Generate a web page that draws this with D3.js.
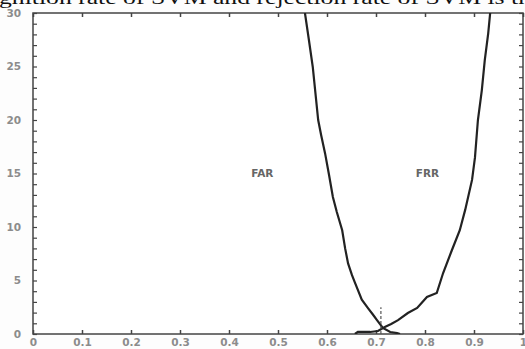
<!DOCTYPE html>
<html>
<head>
<meta charset="utf-8">
<script src="https://cdn.jsdelivr.net/npm/d3@7"></script>
<style>
  html, body { margin: 0; padding: 0; background: #fdfdfd; }
  svg { display: block; }
</style>
</head>
<body>
<div id="chart"></div>
<script>
// threshold values (x) and error rates in % (y)
const farX = [0.555, 0.563, 0.571, 0.582, 0.588, 0.596, 0.604, 0.612, 0.620, 0.631, 0.637, 0.643, 0.651, 0.657, 0.671, 0.684, 0.694, 0.702, 0.714, 0.729, 0.743, 0.749];
const farY = [30.0, 27.5, 24.95, 20.0, 18.6, 16.9, 14.9, 12.8, 11.4, 9.7, 8.0, 6.6, 5.5, 4.8, 3.2, 2.4, 1.8, 1.3, 0.56, 0.19, 0.09, 0];

const frrX = [0.657, 0.663, 0.688, 0.704, 0.718, 0.731, 0.745, 0.765, 0.784, 0.804, 0.824, 0.837, 0.855, 0.871, 0.882, 0.896, 0.902, 0.908, 0.916, 0.922, 0.929, 0.933];
const frrY = [0, 0.19, 0.19, 0.28, 0.65, 0.93, 1.3, 1.96, 2.43, 3.46, 3.83, 5.7, 7.85, 9.7, 11.6, 14.4, 16.5, 20.0, 22.8, 25.6, 28.1, 30.0];

const xTicks = [0, 0.1, 0.2, 0.3, 0.4, 0.5, 0.6, 0.7, 0.8, 0.9, 1];
const yTicks = [0, 5, 10, 15, 20, 25, 30];
const yMinor = d3.range(0, 31, 1);

const eerX = 0.71;
const eerTop = 2.5;

const labels = [
  { text: 'FAR', x: 0.468, y: 15 },
  { text: 'FRR', x: 0.805, y: 15 }
];

const headText = 'gnition rate of SVM and rejection rate of SVM is th';

const width = 525;
const height = 349;
const margin = { top: 13, right: 2, bottom: 15, left: 33 };

const svg = d3.select('#chart').append('svg')
  .attr('width', width)
  .attr('height', height);

// cut-off line of text from the page above
svg.append('text')
  .attr('x', -1)
  .attr('y', 4)
  .attr('textLength', 532)
  .attr('lengthAdjust', 'spacingAndGlyphs')
  .style('font-family', '"Liberation Serif", "DejaVu Serif", serif')
  .style('font-size', '19px')
  .style('fill', '#111')
  .text(headText);

const x = d3.scaleLinear().domain([0, 1]).range([margin.left, width - margin.right]);
const y = d3.scaleLinear().domain([0, 30]).range([height - margin.bottom, margin.top]);

const g = svg.append('g');

g.append('rect')
  .attr('x', x(0)).attr('y', y(30))
  .attr('width', x(1) - x(0)).attr('height', y(0) - y(30))
  .style('fill', '#fff');

svg.append('clipPath').attr('id', 'plotclip')
  .append('rect')
  .attr('x', x(0)).attr('y', y(30))
  .attr('width', x(1) - x(0)).attr('height', y(0) - y(30));

// Axes: ticks pointing inward on all four sides
const tickLen = 4;
const axisColor = '#444';
const labelColor = '#8c8c8c';
const labelFont = '"DejaVu Sans", Verdana, sans-serif';

g.append('g')
  .attr('transform', 'translate(0,' + y(0) + ')')
  .call(d3.axisBottom(x).tickValues(xTicks).tickSizeInner(-tickLen).tickSizeOuter(0)
    .tickFormat(d => d3.format('')(d)))
  .call(a => a.select('.domain').remove())
  .call(a => a.selectAll('line').style('stroke', axisColor).style('stroke-width', 1.5))
  .call(a => a.selectAll('text').attr('dy', '0.9em')
    .style('fill', labelColor).style('font-family', labelFont)
    .style('font-size', '10.5px').style('font-weight', 'bold'));

g.append('g')
  .attr('transform', 'translate(0,' + y(30) + ')')
  .call(d3.axisTop(x).tickValues(xTicks).tickSizeInner(-tickLen).tickSizeOuter(0).tickFormat(''))
  .call(a => a.select('.domain').remove())
  .call(a => a.selectAll('line').style('stroke', axisColor).style('stroke-width', 1.5));

g.append('g')
  .attr('transform', 'translate(' + x(0) + ',0)')
  .call(d3.axisLeft(y).tickValues(yMinor).tickSizeInner(-tickLen).tickSizeOuter(0).tickFormat(''))
  .call(a => a.select('.domain').remove())
  .call(a => a.selectAll('line').style('stroke', axisColor).style('stroke-width', 1.2));

g.append('g')
  .attr('transform', 'translate(' + x(1) + ',0)')
  .call(d3.axisRight(y).tickValues(yMinor).tickSizeInner(-tickLen).tickSizeOuter(0).tickFormat(''))
  .call(a => a.select('.domain').remove())
  .call(a => a.selectAll('line').style('stroke', axisColor).style('stroke-width', 1.2));

// y tick labels
g.selectAll('.ylab')
  .data(yTicks)
  .enter()
  .append('text')
  .attr('class', 'ylab')
  .attr('x', x(0) - 12)
  .attr('y', d => y(d))
  .attr('dy', '0.35em')
  .style('text-anchor', 'end')
  .style('fill', labelColor)
  .style('font-family', labelFont)
  .style('font-size', '10.5px')
  .style('font-weight', 'bold')
  .text(d => d);

// frame
g.append('rect')
  .attr('x', x(0)).attr('y', y(30))
  .attr('width', x(1) - x(0)).attr('height', y(0) - y(30))
  .style('fill', 'none')
  .style('stroke', axisColor)
  .style('stroke-width', 1.5);

// curves
const line = d3.line()
  .x(d => x(d[0]))
  .y(d => y(d[1]));

const plot = g.append('g').attr('clip-path', 'url(#plotclip)');

plot.append('path')
  .attr('d', line(d3.zip(farX, farY)))
  .style('fill', 'none')
  .style('stroke', '#222')
  .style('stroke-width', 2.2);

plot.append('path')
  .attr('d', line(d3.zip(frrX, frrY)))
  .style('fill', 'none')
  .style('stroke', '#222')
  .style('stroke-width', 2.2);

// equal error rate marker
plot.append('line')
  .attr('x1', x(eerX)).attr('x2', x(eerX))
  .attr('y1', y(0)).attr('y2', y(eerTop))
  .style('stroke', '#555')
  .style('stroke-width', 1.2)
  .style('stroke-dasharray', '3,2');

// curve labels
g.selectAll('.clab')
  .data(labels)
  .enter()
  .append('text')
  .attr('class', 'clab')
  .attr('x', d => x(d.x))
  .attr('y', d => y(d.y))
  .attr('dy', '0.35em')
  .style('text-anchor', 'middle')
  .style('fill', '#666')
  .style('font-family', labelFont)
  .style('font-size', '10.5px')
  .style('font-weight', 'bold')
  .text(d => d.text);
</script>
</body>
</html>
